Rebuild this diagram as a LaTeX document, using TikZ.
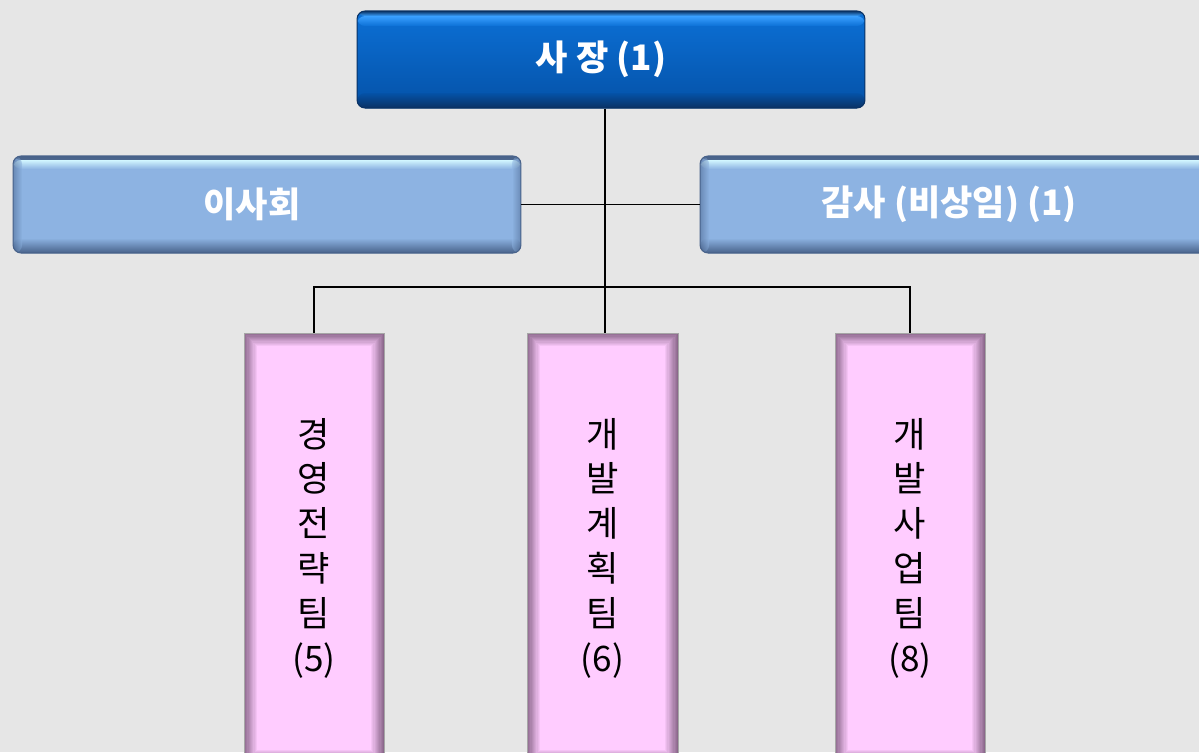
\documentclass[tikz,border=0pt]{standalone}
\usepackage{fontspec}
\usepackage{tikz}
\usetikzlibrary{positioning,calc}
\newfontfamily\kr{Noto Sans CJK KR}
\definecolor{bggray}{RGB}{230, 230, 230}
\definecolor{ceotop}{RGB}{12, 112, 214}
\definecolor{ceobot}{RGB}{4, 82, 168}
\definecolor{ceohi}{RGB}{58, 160, 255}
\definecolor{ceoedge}{RGB}{10, 50, 100}
\definecolor{lbmain}{RGB}{141, 179, 226}
\definecolor{lbhi}{RGB}{210, 246, 255}
\definecolor{lbedge}{RGB}{72, 98, 138}
\definecolor{pinkfill}{RGB}{255, 204, 255}
\definecolor{pinkedge}{RGB}{140, 104, 140}

\begin{document}
\begin{tikzpicture}[x=0.02cm, y=-0.02cm,
    ceobox/.style={rounded corners=0.16cm, minimum width=10.16cm, minimum height=1.94cm,
        fill=ceotop, draw=ceoedge, line width=0.6pt, text=white,
        font=\kr\bfseries\fontsize{20}{24}\selectfont,
        path picture={
            \shade[top color=ceotop, bottom color=ceobot]
                (path picture bounding box.south west) rectangle (path picture bounding box.north east);
            \shade[top color=ceoedge, bottom color=ceohi]
                (path picture bounding box.north west) rectangle ([yshift=-0.1cm]path picture bounding box.north east);
            \shade[top color=ceohi, bottom color=ceotop]
                ([yshift=-0.1cm]path picture bounding box.north west) rectangle ([yshift=-0.3cm]path picture bounding box.north east);
            \shade[top color=ceobot, bottom color=ceoedge]
                ([yshift=0.3cm]path picture bounding box.south west) rectangle (path picture bounding box.south east);
        }},
    lightbox/.style={rounded corners=0.16cm, minimum width=10.16cm, minimum height=1.94cm,
        fill=lbmain, draw=lbedge, line width=0.6pt, text=white,
        font=\kr\bfseries\fontsize{20}{24}\selectfont,
        path picture={
            \shade[top color=lbedge, bottom color=lbhi]
                (path picture bounding box.north west) rectangle ([yshift=-0.08cm]path picture bounding box.north east);
            \shade[top color=lbhi, bottom color=lbmain]
                ([yshift=-0.08cm]path picture bounding box.north west) rectangle ([yshift=-0.26cm]path picture bounding box.north east);
            \shade[top color=lbmain, bottom color=lbedge]
                ([yshift=0.3cm]path picture bounding box.south west) rectangle (path picture bounding box.south east);
            \shade[left color=lbedge, right color=lbmain, opacity=0.5]
                (path picture bounding box.south west) rectangle ([xshift=0.18cm]path picture bounding box.north west);
            \shade[left color=lbmain, right color=lbedge, opacity=0.5]
                ([xshift=-0.18cm]path picture bounding box.south east) rectangle (path picture bounding box.north east);
        }},
    teambox/.style={minimum width=2.9cm, minimum height=8.6cm, fill=pinkfill,
        draw=gray!70, line width=0.4pt, align=center, text=black,
        font=\kr\fontsize{20}{25.5}\selectfont,
        path picture={
            \foreach \i [evaluate=\i as \p using int(100-9*\i)] in {0,...,10}
                \draw[pinkedge!\p!pinkfill, line width=0.03cm]
                    ([xshift=0.024cm*\i+0.012cm, yshift=-0.024cm*\i-0.012cm]path picture bounding box.north west)
                    rectangle ([xshift=-0.024cm*\i-0.012cm, yshift=0.024cm*\i+0.012cm]path picture bounding box.south east);
        }},
    link/.style={draw=black, line width=1pt}]

    % Canvas
    \useasboundingbox (0,0) rectangle (1199,752);
    \clip (0,0) rectangle (1199,752);
    \fill[bggray] (0,0) rectangle (1199,752);

    % Boxes
    \node[ceobox] (ceo) at (611,59.5) {사 장 (1)\kern0.4cm};
    \node[lightbox] (board) at (267,204.5) {이사회\kern0.6cm};
    \node[lightbox] (audit) at (954,204.5) {감사 (비상임) (1)\kern0.2cm};

    \node[teambox, minimum width=2.8cm] (team1) at (314,548) {경\\영\\전\\략\\팀\\(5)};
    \node[teambox, minimum width=3.02cm] (team2) at (602.5,548) {개\\발\\계\\획\\팀\\(6)};
    \node[teambox, minimum width=3.0cm] (team3) at (910,548) {개\\발\\사\\업\\팀\\(8)};

    % Connectors
    \coordinate (hub) at (605,287);
    \draw[link] (board.east) -- (audit.west);
    \draw[link] (ceo.south -| hub) -- (team2.north -| hub);
    \draw[link] (team1.north) |- (hub) -| (team3.north);

\end{tikzpicture}
\end{document}
